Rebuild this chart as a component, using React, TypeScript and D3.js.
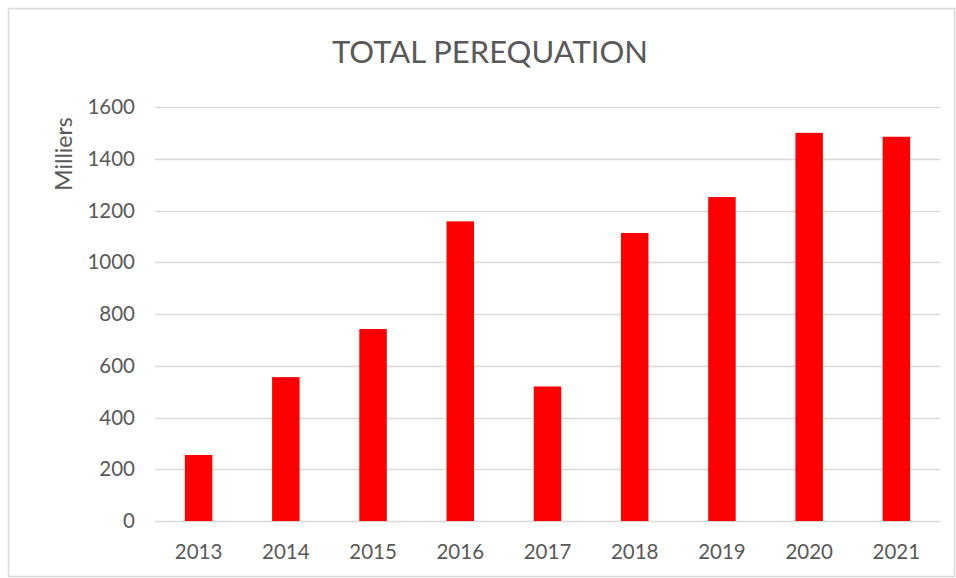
import React, { useEffect, useRef } from 'react';
import * as d3 from 'd3';

const years = ['2013', '2014', '2015', '2016', '2017', '2018', '2019', '2020', '2021'];
const values = [255, 556, 742, 1158, 520, 1113, 1252, 1500, 1485];
const yTicks = [0, 200, 400, 600, 800, 1000, 1200, 1400, 1600];

const width = 956;
const height = 578;
const textColor = '#595959';
const fontFamily = 'Lato, "Open Sans", sans-serif';

export default function App() {
  const svgRef = useRef<SVGSVGElement>(null);

  useEffect(() => {
    const svg = d3.select(svgRef.current);
    svg.selectAll('*').remove();

    const margin = { top: 107, right: 16, bottom: 57, left: 155 };
    const innerWidth = width - margin.left - margin.right;
    const innerHeight = height - margin.top - margin.bottom;

    // chart frame
    svg.append('rect')
      .attr('x', 8.5)
      .attr('y', 8.5)
      .attr('width', width - 10)
      .attr('height', height - 10)
      .style('fill', '#fff')
      .style('stroke', '#d9d9d9')
      .style('stroke-width', 1.5);

    svg.append('text')
      .attr('x', 490)
      .attr('y', 63)
      .attr('text-anchor', 'middle')
      .style('font-family', fontFamily)
      .style('font-size', '31px')
      .style('fill', textColor)
      .text('TOTAL PEREQUATION');

    const g = svg.append('g')
      .attr('transform', `translate(${margin.left},${margin.top})`);

    const xScale = d3.scaleBand()
      .domain(years)
      .range([0, innerWidth])
      .paddingInner(0.685)
      .paddingOuter(0.3425);

    const yScale = d3.scaleLinear()
      .domain([0, 1600])
      .range([innerHeight, 0]);

    // Grid lines
    g.selectAll('.grid-line-y')
      .data(yTicks)
      .enter()
      .append('line')
      .attr('class', 'grid-line-y')
      .attr('x1', 0)
      .attr('x2', innerWidth)
      .attr('y1', d => Math.round(yScale(d)) + 0.5)
      .attr('y2', d => Math.round(yScale(d)) + 0.5)
      .style('stroke', '#d9d9d9')
      .style('stroke-width', 1.5);

    // Bars
    g.selectAll('.bar')
      .data(values)
      .enter()
      .append('rect')
      .attr('class', 'bar')
      .attr('x', (d, i) => xScale(years[i]) as number)
      .attr('y', d => yScale(d))
      .attr('width', xScale.bandwidth())
      .attr('height', d => innerHeight - yScale(d))
      .style('fill', '#ff0000');

    // Y axis labels
    g.selectAll('.y-label')
      .data(yTicks)
      .enter()
      .append('text')
      .attr('class', 'y-label')
      .attr('x', -20)
      .attr('y', d => yScale(d))
      .attr('dy', '0.35em')
      .attr('text-anchor', 'end')
      .style('font-family', fontFamily)
      .style('font-size', '20.5px')
      .style('fill', textColor)
      .text(d => d);

    // X axis labels
    g.selectAll('.x-label')
      .data(years)
      .enter()
      .append('text')
      .attr('class', 'x-label')
      .attr('x', d => (xScale(d) as number) + xScale.bandwidth() / 2)
      .attr('y', innerHeight + 38)
      .attr('text-anchor', 'middle')
      .style('font-family', fontFamily)
      .style('font-size', '20.5px')
      .style('fill', textColor)
      .text(d => d);

    // Axis title
    svg.append('text')
      .attr('transform', 'translate(72,154) rotate(-90)')
      .attr('text-anchor', 'middle')
      .style('font-family', fontFamily)
      .style('font-size', '23px')
      .style('fill', textColor)
      .text('Milliers');
  }, []);

  return (
    <svg
      ref={svgRef}
      width={width}
      height={height}
      style={{ position: 'absolute', left: 0, top: 0, display: 'block', background: '#fff' }}
    />
  );
}
